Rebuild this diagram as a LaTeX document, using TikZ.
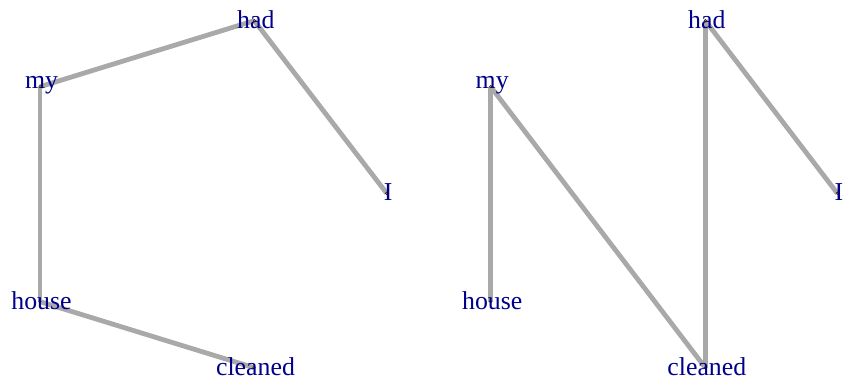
\documentclass[tikz,border=0pt]{standalone}
\usepackage{fontspec}
\setmainfont{Liberation Serif}
\definecolor{edgegray}{HTML}{A9A9A9}
\definecolor{labblue}{HTML}{00008B}
\tikzset{
  x=1pt,y=1pt,
  edge/.style={draw=edgegray,line width=4.8pt},
  vdot/.style={circle,fill=orange,draw=black,line width=0.3pt,inner sep=0pt,minimum size=2.6pt},
  vlab/.style={text=labblue,inner sep=0pt,anchor=center,xshift=1.5pt,yshift=1.5pt,font=\fontsize{25.8}{30}\selectfont}
}
\begin{document}
\begin{tikzpicture}
\useasboundingbox (0,0) rectangle (846,382);
% left graph
\coordinate (Lhad) at (254.3,361.3);
\coordinate (Lmy) at (40,295.3);
\coordinate (LI) at (386.7,188.7);
\coordinate (Lhouse) at (40,80.3);
\coordinate (Lcleaned) at (254,14.3);
% right graph
\coordinate (Rhad) at (705.3,361.3);
\coordinate (Rmy) at (490.7,295.3);
\coordinate (RI) at (837.3,188.7);
\coordinate (Rhouse) at (490.7,80.3);
\coordinate (Rcleaned) at (705.3,14.3);
% edges
\draw[edge] (Lmy) -- (Lhad);
\draw[edge] (Lhad) -- (LI);
\draw[edge] (Lmy) -- (Lhouse);
\draw[edge] (Lhouse) -- (Lcleaned);
\draw[edge] (Rhad) -- (RI);
\draw[edge] (Rhad) -- (Rcleaned);
\draw[edge] (Rmy) -- (Rcleaned);
\draw[edge] (Rmy) -- (Rhouse);
% vertex dots
\foreach \v in {Lhad,Lmy,LI,Lhouse,Lcleaned,Rhad,Rmy,RI,Rhouse,Rcleaned}
  \node[vdot] (d\v) at (\v) {};
% labels
\node[vlab] (tLhad) at (Lhad) {had};
\node[vlab] (tLmy) at (Lmy) {my};
\node[vlab] (tLI) at (LI) {I};
\node[vlab] (tLhouse) at (Lhouse) {house};
\node[vlab] (tLcleaned) at (Lcleaned) {cleaned};
\node[vlab] (tRhad) at (Rhad) {had};
\node[vlab] (tRmy) at (Rmy) {my};
\node[vlab] (tRI) at (RI) {I};
\node[vlab] (tRhouse) at (Rhouse) {house};
\node[vlab] (tRcleaned) at (Rcleaned) {cleaned};
\end{tikzpicture}
\end{document}
